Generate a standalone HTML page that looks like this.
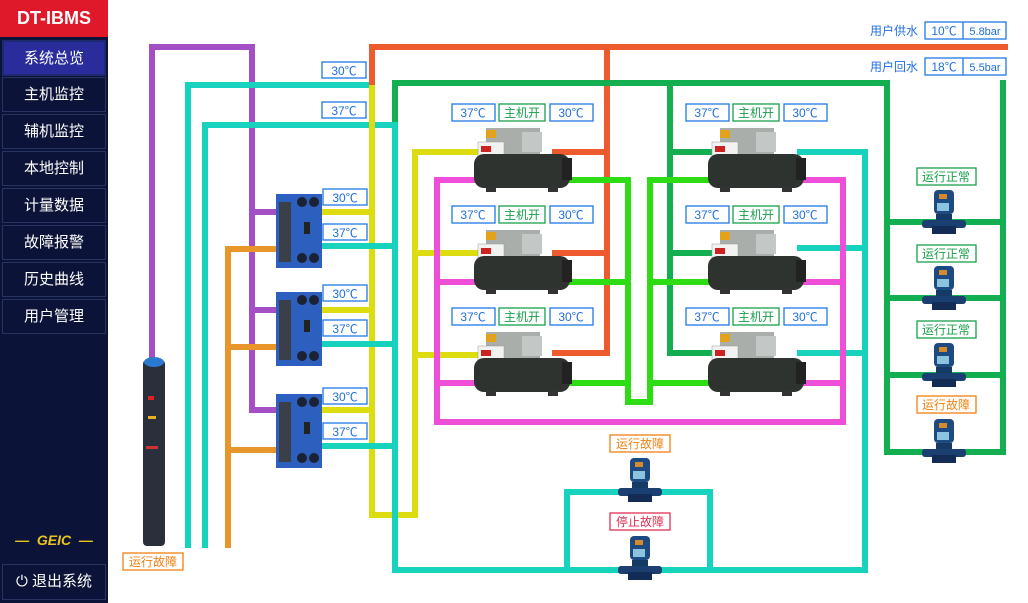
<!DOCTYPE html>
<html><head><meta charset="utf-8"><style>
html,body{margin:0;padding:0;background:#fff;}
body{width:1028px;height:603px;overflow:hidden;position:relative;font-family:"Liberation Sans","Noto Sans CJK SC",sans-serif;}
#side{position:absolute;left:0;top:0;width:108px;height:603px;background:#0b1438;}
#logo{position:absolute;left:0;top:0;width:108px;height:37px;background:#e0192a;color:#fff;font:bold 18px "Liberation Sans",sans-serif;text-align:center;line-height:37px;letter-spacing:0px;}
.mi{position:absolute;left:2px;width:104px;height:35px;border:1px solid #26345f;box-sizing:border-box;color:#fff;font-size:15px;text-align:center;line-height:34px;background:#0b1438;}
.mi.act{background:#2b2c9c;border:2px solid #1d2a70;}
#geic{position:absolute;left:0;top:532px;width:108px;text-align:center;color:#e8c41c;font:italic bold 14px "Liberation Sans",sans-serif;}
#exit{position:absolute;left:2px;top:564px;width:104px;height:36px;border:1px solid #26345f;box-sizing:border-box;color:#fff;font-size:15px;line-height:34px;text-align:center;}
svg{position:absolute;left:0;top:0;}
svg text{font-family:"Liberation Sans","Noto Sans CJK SC",sans-serif;}
</style></head><body>
<svg width="1028" height="603" viewBox="0 0 1028 603">
<defs>
<g id="chiller">
 <rect x="14" y="0" width="54" height="26" fill="#a9aeab"/>
 <rect x="50" y="4" width="20" height="20" fill="#c3c7c5"/>
 <rect x="14" y="2" width="10" height="8" fill="#e3a21c"/>
 <rect x="6" y="14" width="26" height="16" fill="#f2f2f2" stroke="#999" stroke-width=".5"/>
 <rect x="9" y="18" width="10" height="6" fill="#c22"/>
 <rect x="2" y="26" width="96" height="34" rx="10" fill="#2f3330"/>
 <rect x="90" y="30" width="10" height="22" fill="#222"/>
 <rect x="14" y="58" width="10" height="6" fill="#333"/><rect x="76" y="58" width="10" height="6" fill="#333"/>
</g>
<g id="hx">
 <rect x="0" y="2" width="46" height="74" fill="#2d5fbf"/>
 <rect x="3" y="10" width="12" height="60" fill="#3a3f4a"/>
 <circle cx="26" cy="10" r="5" fill="#1b2233"/><circle cx="38" cy="10" r="5" fill="#1b2233"/>
 <circle cx="26" cy="66" r="5" fill="#1b2233"/><circle cx="38" cy="66" r="5" fill="#1b2233"/>
 <rect x="28" y="30" width="6" height="12" fill="#222"/>
</g>
<g id="pump">
 <rect x="12" y="0" width="20" height="24" rx="4" fill="#1d4a80"/>
 <rect x="17" y="4" width="8" height="5" fill="#d88a2a"/>
 <rect x="15" y="13" width="12" height="8" fill="#8cc4e0"/>
 <rect x="14" y="24" width="16" height="10" fill="#163a66"/>
 <rect x="0" y="30" width="44" height="8" rx="3" fill="#1a3f70"/>
 <rect x="10" y="36" width="24" height="8" fill="#122c55"/>
</g>
</defs>
<g fill="none" stroke-width="6" stroke-linecap="square">
 <!-- purple -->
 <polyline stroke="#a54fc4" points="152,360 152,47 252,47 252,410 278,410"/>
 <line stroke="#a54fc4" x1="252" y1="212" x2="278" y2="212"/>
 <line stroke="#a54fc4" x1="252" y1="310" x2="278" y2="310"/>
 <!-- cyan left -->
 <polyline stroke="#17d3bd" points="188,545 188,85 372,85"/>
 <polyline stroke="#17d3bd" points="205,545 205,125 395,125"/>
 <!-- orange -->
 <polyline stroke="#e8952a" points="228,545 228,249 278,249"/>
 <line stroke="#e8952a" x1="228" y1="347" x2="278" y2="347"/>
 <line stroke="#e8952a" x1="228" y1="450" x2="278" y2="450"/>
 <!-- red top -->
 <polyline stroke="#ec5a2e" points="372,85 372,47 1005,47"/>
 <line stroke="#ec5a2e" x1="607" y1="47" x2="607" y2="353"/>
 <line stroke="#ec5a2e" x1="555" y1="152" x2="607" y2="152"/>
 <line stroke="#ec5a2e" x1="555" y1="253" x2="607" y2="253"/>
 <line stroke="#ec5a2e" x1="555" y1="353" x2="607" y2="353"/>
 <!-- yellow -->
 <polyline stroke="#dcdc10" points="372,88 372,515 415,515 415,152 475,152"/>
 <line stroke="#dcdc10" x1="415" y1="253" x2="475" y2="253"/>
 <line stroke="#dcdc10" x1="415" y1="355" x2="475" y2="355"/>
 <line stroke="#dcdc10" x1="322" y1="212" x2="372" y2="212"/>
 <line stroke="#dcdc10" x1="322" y1="310" x2="372" y2="310"/>
 <line stroke="#dcdc10" x1="322" y1="410" x2="372" y2="410"/>
 <!-- dark green -->
 <polyline stroke="#13ae4f" points="395,120 395,83 887,83 887,452 1003,452 1003,83"/>
 <line stroke="#13ae4f" x1="670" y1="83" x2="670" y2="353"/>
 <line stroke="#13ae4f" x1="670" y1="152" x2="712" y2="152"/>
 <line stroke="#13ae4f" x1="670" y1="253" x2="712" y2="253"/>
 <line stroke="#13ae4f" x1="670" y1="353" x2="712" y2="353"/>
 <line stroke="#13ae4f" x1="887" y1="222" x2="1003" y2="222"/>
 <line stroke="#13ae4f" x1="887" y1="298" x2="1003" y2="298"/>
 <line stroke="#13ae4f" x1="887" y1="375" x2="1003" y2="375"/>
 <!-- cyan big -->
 <polyline stroke="#17d3bd" points="395,125 395,570 865,570 865,152 800,152"/>
 <line stroke="#17d3bd" x1="800" y1="248" x2="865" y2="248"/>
 <line stroke="#17d3bd" x1="800" y1="353" x2="865" y2="353"/>
 <line stroke="#17d3bd" x1="322" y1="246" x2="395" y2="246"/>
 <line stroke="#17d3bd" x1="322" y1="344" x2="395" y2="344"/>
 <line stroke="#17d3bd" x1="322" y1="446" x2="395" y2="446"/>
 <polyline stroke="#17d3bd" points="567,570 567,492 710,492 710,570"/>
 <!-- magenta -->
 <polyline stroke="#ee4ed8" points="475,180 437,180 437,422 843,422 843,180 805,180"/>
 <line stroke="#ee4ed8" x1="437" y1="282" x2="475" y2="282"/>
 <line stroke="#ee4ed8" x1="437" y1="383" x2="475" y2="383"/>
 <line stroke="#ee4ed8" x1="805" y1="282" x2="843" y2="282"/>
 <line stroke="#ee4ed8" x1="805" y1="383" x2="843" y2="383"/>
 <!-- bright green -->
 <polyline stroke="#2ddc12" points="572,180 628,180 628,402 650,402 650,180 710,180"/>
 <line stroke="#2ddc12" x1="572" y1="282" x2="628" y2="282"/>
 <line stroke="#2ddc12" x1="572" y1="383" x2="628" y2="383"/>
 <line stroke="#2ddc12" x1="650" y1="282" x2="710" y2="282"/>
 <line stroke="#2ddc12" x1="650" y1="383" x2="710" y2="383"/>
</g>
<!-- equipment -->
<use href="#chiller" x="472" y="128"/><use href="#chiller" x="472" y="230"/><use href="#chiller" x="472" y="332"/>
<use href="#chiller" x="706" y="128"/><use href="#chiller" x="706" y="230"/><use href="#chiller" x="706" y="332"/>
<use href="#hx" x="276" y="192"/><use href="#hx" x="276" y="290"/><use href="#hx" x="276" y="392"/>
<use href="#pump" x="922" y="190"/><use href="#pump" x="922" y="266"/><use href="#pump" x="922" y="343"/><use href="#pump" x="922" y="419"/>
<use href="#pump" x="618" y="458"/><use href="#pump" x="618" y="536"/>
<g>
 <rect x="143" y="360" width="22" height="186" rx="4" fill="#2a2f3c"/>
 <ellipse cx="154" cy="362" rx="10" ry="5" fill="#2a7bd0"/>
 <rect x="148" y="396" width="6" height="4" fill="#d22"/><rect x="148" y="416" width="8" height="3" fill="#e8b020"/><rect x="146" y="446" width="12" height="3" fill="#c33"/>
</g>
<!-- labels -->
<g font-size="12" fill="#1f6fe0" stroke-width="1.3">
 <g fill="none" stroke="#1e78e6">
  <rect x="322" y="62" width="44" height="16"/><rect x="322" y="102" width="44" height="16"/>
  <rect x="323" y="189" width="44" height="16"/><rect x="323" y="224" width="44" height="16"/>
  <rect x="323" y="285" width="44" height="16"/><rect x="323" y="320" width="44" height="16"/>
  <rect x="323" y="388" width="44" height="16"/><rect x="323" y="423" width="44" height="16"/>
  <rect x="452" y="104" width="43" height="17"/><rect x="550" y="104" width="43" height="17"/>
  <rect x="452" y="206" width="43" height="17"/><rect x="550" y="206" width="43" height="17"/>
  <rect x="452" y="308" width="43" height="17"/><rect x="550" y="308" width="43" height="17"/>
  <rect x="686" y="104" width="43" height="17"/><rect x="784" y="104" width="43" height="17"/>
  <rect x="686" y="206" width="43" height="17"/><rect x="784" y="206" width="43" height="17"/>
  <rect x="686" y="308" width="43" height="17"/><rect x="784" y="308" width="43" height="17"/>
  <rect x="925" y="22" width="81" height="17"/><line x1="963" y1="22" x2="963" y2="39"/>
  <rect x="925" y="58" width="81" height="17"/><line x1="963" y1="58" x2="963" y2="75"/>
 </g>
 <g fill="none" stroke="#16a04a">
  <rect x="499" y="104" width="46" height="17"/><rect x="499" y="206" width="46" height="17"/><rect x="499" y="308" width="46" height="17"/>
  <rect x="733" y="104" width="46" height="17"/><rect x="733" y="206" width="46" height="17"/><rect x="733" y="308" width="46" height="17"/>
  <rect x="917" y="168" width="59" height="17"/><rect x="917" y="245" width="59" height="17"/><rect x="917" y="321" width="59" height="17"/>
 </g>
 <g fill="none" stroke="#f08010">
  <rect x="917" y="396" width="59" height="17"/><rect x="610" y="435" width="60" height="17"/><rect x="123" y="553" width="60" height="17"/>
 </g>
 <rect x="610" y="513" width="60" height="17" fill="none" stroke="#e03050"/>
 <g text-anchor="middle">
  <text x="344" y="75">30℃</text><text x="344" y="115">37℃</text>
  <text x="345" y="202">30℃</text><text x="345" y="237">37℃</text>
  <text x="345" y="298">30℃</text><text x="345" y="333">37℃</text>
  <text x="345" y="401">30℃</text><text x="345" y="436">37℃</text>
  <text x="473" y="117">37℃</text><text x="571" y="117">30℃</text>
  <text x="473" y="219">37℃</text><text x="571" y="219">30℃</text>
  <text x="473" y="321">37℃</text><text x="571" y="321">30℃</text>
  <text x="707" y="117">37℃</text><text x="805" y="117">30℃</text>
  <text x="707" y="219">37℃</text><text x="805" y="219">30℃</text>
  <text x="707" y="321">37℃</text><text x="805" y="321">30℃</text>
  <text x="944" y="35">10℃</text><text x="985" y="35" font-family="Liberation Mono,monospace" font-size="11">5.8bar</text>
  <text x="944" y="71">18℃</text><text x="985" y="71" font-family="Liberation Mono,monospace" font-size="11">5.5bar</text>
  <g fill="#16a04a">
   <text x="522" y="117">主机开</text><text x="522" y="219">主机开</text><text x="522" y="321">主机开</text>
   <text x="756" y="117">主机开</text><text x="756" y="219">主机开</text><text x="756" y="321">主机开</text>
   <text x="946" y="181">运行正常</text><text x="946" y="258">运行正常</text><text x="946" y="334">运行正常</text>
  </g>
  <g fill="#f08010">
   <text x="946" y="409">运行故障</text><text x="640" y="448">运行故障</text><text x="153" y="566">运行故障</text>
  </g>
  <text x="640" y="526" fill="#e03050">停止故障</text>
 </g>
 <text x="870" y="35">用户供水</text><text x="870" y="71">用户回水</text>
</g>
</svg>
<div id="side">
 <div id="logo">DT-IBMS</div>
 <div class="mi act" style="top:40px;height:36px">系统总览</div>
 <div class="mi" style="top:77px">主机监控</div>
 <div class="mi" style="top:114px">辅机监控</div>
 <div class="mi" style="top:151px">本地控制</div>
 <div class="mi" style="top:188px">计量数据</div>
 <div class="mi" style="top:225px">故障报警</div>
 <div class="mi" style="top:262px">历史曲线</div>
 <div class="mi" style="top:299px">用户管理</div>
 <div id="geic">— &nbsp;GEIC&nbsp; —</div>
 <div id="exit">⏻ 退出系统</div>
</div>
</body></html>
